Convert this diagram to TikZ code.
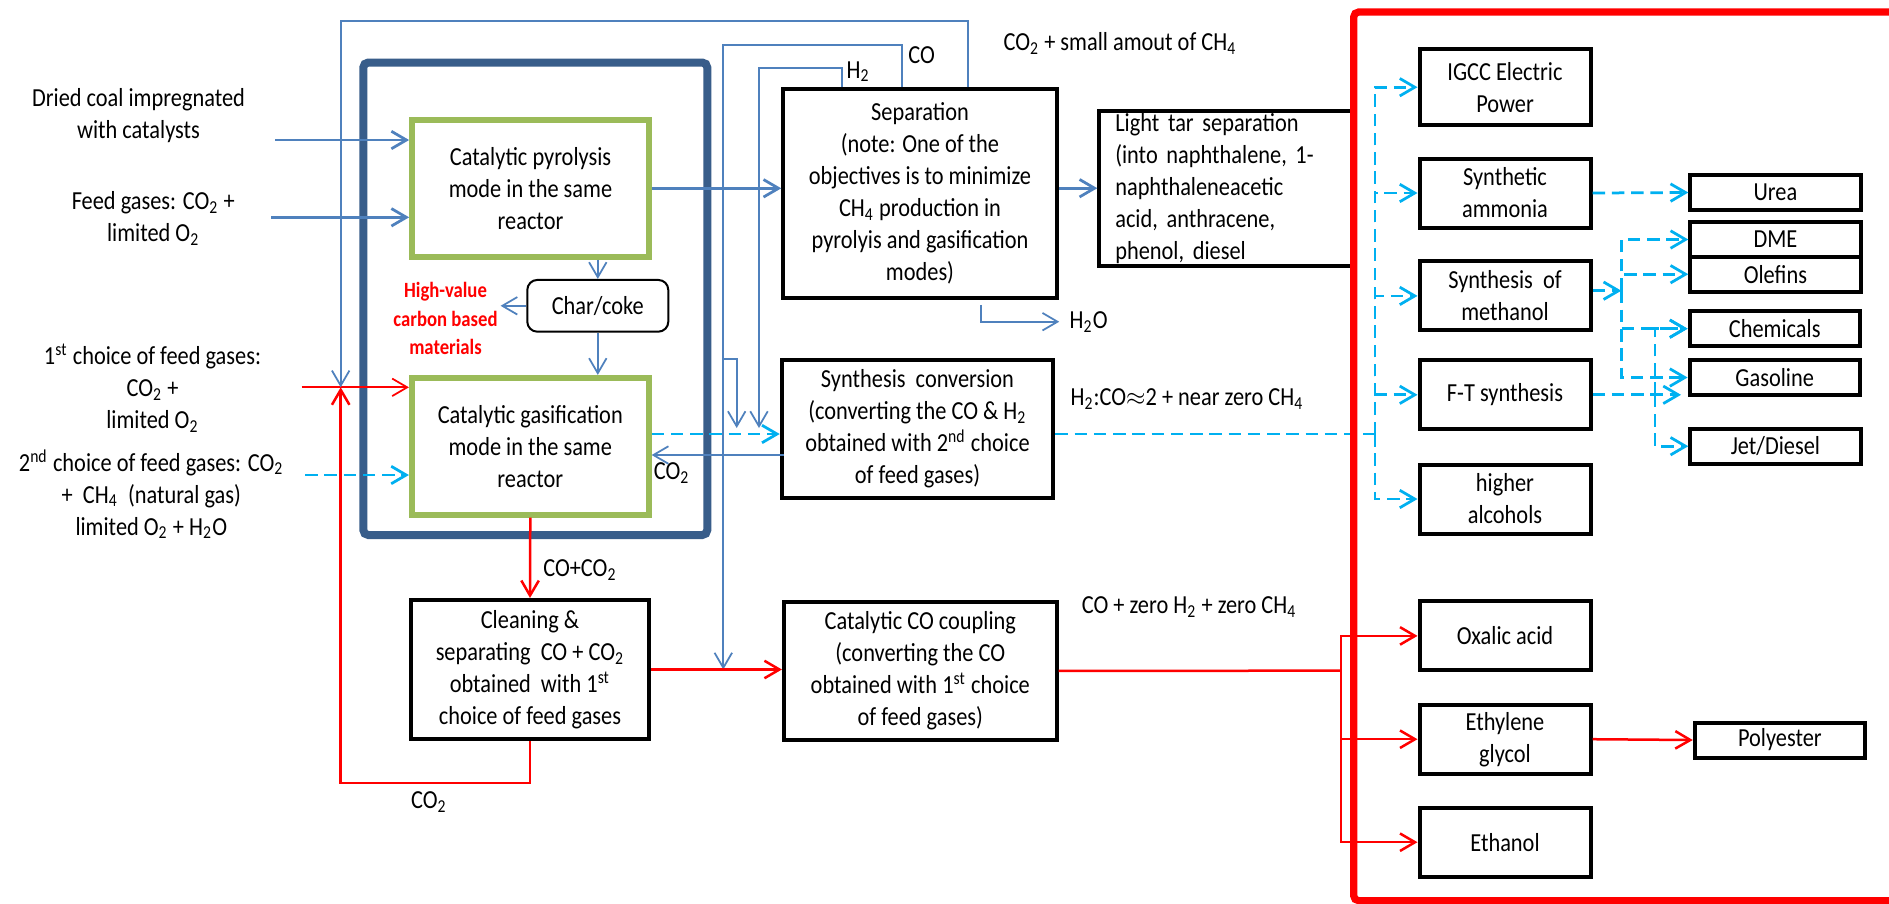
\documentclass[tikz,border=0pt]{standalone}
\usepackage{fontspec}
\setmainfont{Carlito}[FakeStretch=0.86]
\usepackage{xcolor}
\usepackage{tikz}
\usetikzlibrary{
	arrows.meta,
	calc,
	}
\definecolor{arrblue}{HTML}{4F81BD}
\definecolor{reactorblue}{HTML}{385D8A}
\definecolor{modegreen}{HTML}{9BBB59}
\definecolor{gascyan}{HTML}{00B0F0}

\begin{document}
\begin{tikzpicture}[x=0.4pt, y=-0.4pt,
	font=\fontsize{10.4}{12.8}\selectfont,
	tip/.tip={Straight Barb[length=6pt,width=7pt]},
	lab/.style={align=center, inner sep=1pt},
	box/.style={draw, line width=1.6pt, align=center, inner sep=1pt},
	modebox/.style={draw=modegreen, line width=2.3pt, align=center, inner sep=1pt, minimum width=94.8pt, minimum height=54.8pt},
	unitbox/.style={box, minimum width=68.4pt, minimum height=27.6pt},
	prodbox/.style={box, minimum width=68.1pt, minimum height=14pt},
	bluearr/.style={draw=arrblue, line width=1.1pt, -tip},
	thinarr/.style={draw=arrblue, line width=0.7pt, -tip},
	redarr/.style={draw=red, line width=1pt, -tip},
	redline/.style={draw=red, line width=1pt},
	cyanline/.style={draw=gascyan, line width=1.1pt, dash pattern=on 5pt off 2.7pt},
	cyanarr/.style={cyanline, -tip},
	]
		\fill[white] (0,0) rectangle (1889,903);
		\useasboundingbox (0,0) rectangle (1889,903);
		\draw[reactorblue, line width=3.2pt, rounded corners=2pt] (363.3,62.5) rectangle (707.3,535);
		\node[lab] (coal) at (138.5,116) {Dried coal impregnated\\with catalysts};
		\node[lab] (feed) at (153.3,218.3) {Feed gases: CO\textsubscript{2} +\\limited O\textsubscript{2}};
		\node[lab] (first) at (152.5,388) {1\textsuperscript{st} choice of feed gases:\\CO\textsubscript{2} +\\limited O\textsubscript{2}};
		\node[lab] (second) at (151.3,494.2) {2\textsuperscript{nd} choice of feed gases: CO\textsubscript{2}\\+~ CH\textsubscript{4}~ (natural gas)\\limited O\textsubscript{2} + H\textsubscript{2}O};
		\node[modebox] (pyro) at (530.5,188.3) {Catalytic pyrolysis\\mode in the same\\reactor};
		\node[modebox] (gasif) at (530.3,446.3) {Catalytic gasification\\mode in the same\\reactor};
		\node[draw, line width=0.8pt, rounded corners=4pt, minimum width=56.4pt, minimum height=20.7pt] (char) at (597.8,305.8) {Char/coke};
		\node[lab, text=red, font=\bfseries\fontsize{8.7}{11.4}\selectfont] (hv) at (445.5,318.5) {High-value\\carbon based\\materials};
		\node[box, minimum width=95.2pt, minimum height=55.6pt] (clean) at (530,669.5) {Cleaning \&\\separating~ CO + CO\textsubscript{2}\\obtained~ with 1\textsuperscript{st}\\choice of feed gases};
		\node[box, minimum width=109.4pt, minimum height=83.4pt] (sep) at (920,193.5) {Separation\\(note: One of the\\objectives is to minimize\\CH\textsubscript{4} production in\\pyrolyis and gasification\\modes)};
		\node[box, minimum width=108.6pt, minimum height=55.2pt] (synconv) at (917.5,429) {Synthesis~ conversion\\(converting the CO \& H\textsubscript{2}\\obtained with 2\textsuperscript{nd} choice\\of feed gases)};
		\node[box, minimum width=109.1pt, minimum height=55.3pt] (coup) at (920.3,670.8) {Catalytic CO coupling\\(converting the CO\\obtained with 1\textsuperscript{st} choice\\of feed gases)};
		\node[box, anchor=west, align=left, text width=89.4pt, inner xsep=6.4pt, inner ysep=0pt, minimum height=62pt] (tar) at (1097.3,188.2) {Light tar separation\\(into naphthalene, 1-\\naphthaleneacetic\\acid, anthracene,\\phenol, diesel};
		\node[lab] (tarlab) at (1120,43.3) {CO\textsubscript{2} + small amout of CH\textsubscript{4}};
		\node[lab] (colab) at (921.7,55) {CO};
		\node[lab] (h2lab) at (858.3,71.7) {H\textsubscript{2}};
		\node[lab] (h2o) at (1088.7,321.7) {H\textsubscript{2}O};
		\node[lab] (ratio) at (1187,399.3) {H\textsubscript{2}:CO$\approx$2 + near zero CH\textsubscript{4}};
		\node[lab] (co2lab) at (671.7,473.3) {CO\textsubscript{2}};
		\node[lab] (mixlab) at (580,570) {CO+CO\textsubscript{2}};
		\node[lab] (co2loop) at (429,801.7) {CO\textsubscript{2}};
		\node[lab] (coonly) at (1189.2,607.3) {CO + zero H\textsubscript{2} + zero CH\textsubscript{4}};
		\node[unitbox, minimum height=30.3pt] (igcc) at (1505,87.2) {IGCC Electric\\Power};
		\node[unitbox] (ammonia) at (1505,193) {Synthetic\\ammonia};
		\node[unitbox] (methanol) at (1505,295.9) {Synthesis~ of\\methanol};
		\node[unitbox] (ft) at (1505,394.8) {F-T synthesis};
		\node[unitbox] (alcohols) at (1505,499) {higher\\alcohols};
		\node[unitbox] (oxalic) at (1505,635.9) {Oxalic acid};
		\node[unitbox] (glycol) at (1505,739.2) {Ethylene\\glycol};
		\node[unitbox] (ethanol) at (1505,842.2) {Ethanol};
		\node[prodbox] (urea) at (1775.4,192.5) {Urea};
		\node[prodbox, minimum height=13.8pt] (dme) at (1775.4,239.5) {DME};
		\node[prodbox] (olefins) at (1775.4,274.2) {Olefins};
		\node[prodbox] (chem) at (1774.7,328.7) {Chemicals};
		\node[prodbox] (gasoline) at (1774.7,377.5) {Gasoline};
		\node[prodbox] (jet) at (1775.4,446.2) {Jet/Diesel};
		\node[prodbox] (poly) at (1779.9,740) {Polyester};
		\coordinate (coalin) at (275,140);
		\coordinate (feedin) at (271,217.3);
		\coordinate (firstin) at (301.7,387.3);
		\coordinate (secondin) at (305,475);
		\coordinate (join) at (340.7,387.3);
		\coordinate (cojoin) at (723.3,669.5);
		\coordinate (cobranch) at (723.3,359.3);
		\coordinate (coend) at (736.7,428);
		\coordinate (h2end) at (759,428);
		\coordinate (cyansplit) at (1375,434);
		\coordinate (methsplit) at (1621.3,290.7);
		\coordinate (ftsplit) at (1655,394.8);
		\coordinate (ftend) at (1681,394.8);
		\coordinate (redsplit) at (1341,670.7);
		\path ($(synconv.west)+(4,26)$) coordinate (co2back);
		\path ($(gasif.east)+(0,-12.3)$) coordinate (gasout);
		\draw[bluearr] (coalin) -- (coalin -| pyro.west);
		\draw[bluearr] (feedin) -- (feedin -| pyro.west);
		\draw[redarr, line width=0.7pt] (firstin) -- (firstin -| gasif.west);
		\draw[cyanarr] (secondin) -- (secondin -| gasif.west);
		\draw[thinarr] (pyro.south -| char.north) -- (char.north);
		\draw[thinarr] (char.south) -- (char.south |- gasif.north);
		\draw[thinarr] (char.west) -- (char.west -| hv.east);
		\draw[redarr] (gasif.south) -- (clean.north);
		\draw[bluearr] (pyro.east) -- (pyro.east -| sep.west);
		\draw[bluearr] (sep.east |- tar.west) -- (tar.west);
		\draw[thinarr] ($(sep.south)+(60.7,5)$) |- ([xshift=-3pt]h2o.west);
		\draw[thinarr] ($(sep.north)+(48.3,0)$) -- ++(0,-66.6) -| (join);
		\draw[thinarr] ($(sep.north)+(-17.7,0)$) -- ++(0,-42.6) -| (cojoin);
		\draw[thinarr] ($(sep.north)+(-78.3,0)$) -- ++(0,-19.3) -| (h2end);
		\draw[thinarr] (cobranch) -| (coend);
		\draw[thinarr] (co2back) -- (co2back -| gasif.east);
		\draw[cyanarr] (gasout) -- (gasout -| synconv.west);
		\draw[redarr] (clean.east) -- (clean.east -| coup.west);
		\draw[redarr] (clean.south) -- ++(0,42) -| (join);
		\draw[cyanline] (synconv.east |- cyansplit) -- (cyansplit);
		\draw[cyanarr] (cyansplit) |- (igcc.west);
		\draw[cyanarr] (cyansplit) |- (ammonia.west);
		\draw[cyanarr] (cyansplit) |- (methanol.west);
		\draw[cyanarr] (cyansplit) |- (ft.west);
		\draw[cyanarr] (cyansplit) |- (alcohols.west);
		\draw[cyanarr] (ammonia.east) -- (urea.west);
		\draw[cyanarr] (methanol.east |- methsplit) -- (methsplit);
		\draw[cyanarr] (methsplit) |- (dme.west);
		\draw[cyanarr] (methsplit) |- (olefins.west);
		\draw[cyanarr] (methsplit) |- (chem.west);
		\draw[cyanarr] (methsplit) |- (gasoline.west);
		\draw[cyanarr] (ft.east) -- (ftend);
		\draw[cyanarr] (ftsplit) |- (chem.west);
		\draw[cyanarr] (ftsplit) |- (jet.west);
		\draw[redline] (coup.east) -- (redsplit);
		\draw[redarr] (redsplit) |- (oxalic.west);
		\draw[redarr] (redsplit) |- (glycol.west);
		\draw[redarr] (redsplit) |- (ethanol.west);
		\draw[redarr] (glycol.east) -- (poly.west);
		\draw[red, line width=2.9pt, rounded corners=2pt] (1353.7,12) rectangle (1960,900.7);
	\end{tikzpicture}
\end{document}
